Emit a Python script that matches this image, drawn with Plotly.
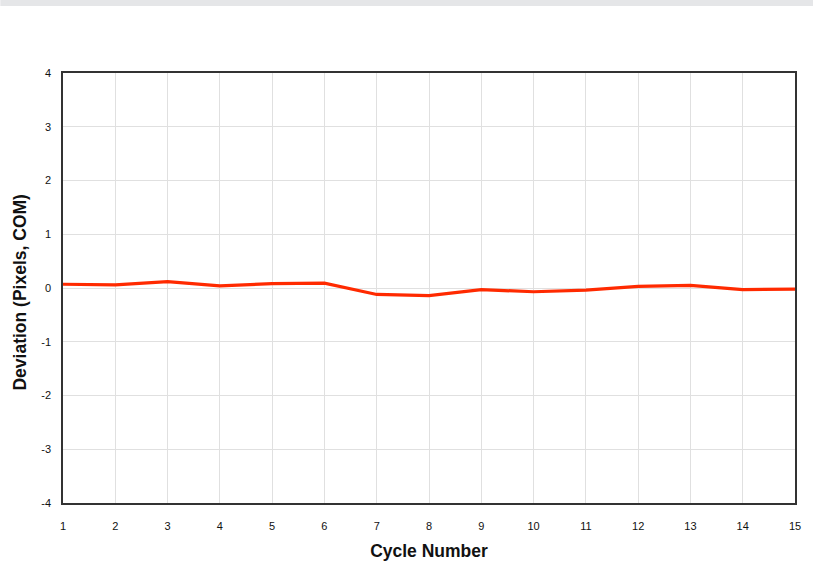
import plotly.graph_objects as go

# desviación del centro de masa por ciclo
ciclo = list(range(1, 16))
desviacion = [0.07, 0.06, 0.12, 0.04, 0.08, 0.09, -0.12, -0.14,
              -0.03, -0.07, -0.04, 0.03, 0.05, -0.03, -0.02]
y_ticks = [-4, -3, -2, -1, 0, 1, 2, 3, 4]
y_etiquetas = ["-4", "-3", "-2", "-1", "0", "1", "2", "3", "4"]

W, H = 813, 577
ML, MR, MT, MB = 63, 14, 73, 74
plot_w = W - ML - MR
plot_h = H - MT - MB

fig = go.Figure()
fig.add_trace(go.Scatter(
    x=ciclo, y=desviacion, mode="lines",
    line=dict(color="#ff2a00", width=3.2),
    showlegend=False, hoverinfo="skip",
))

# barra gris superior
fig.add_shape(type="rect", xref="paper", yref="paper",
              x0=-ML / plot_w, x1=1 + (MR + 5) / plot_w,
              y0=1 + (MT - 6) / plot_h, y1=1 + (MT + 2) / plot_h,
              fillcolor="#e5e6e8", line_width=0, layer="below")

fuente = "Liberation Sans, Arial, sans-serif"
fig.update_xaxes(
    range=[1, 15], tickvals=ciclo, showgrid=True, gridcolor="#e0e0e0",
    gridwidth=1, showline=True, linecolor="#333", linewidth=1.5,
    mirror=True, zeroline=False, ticks="outside", ticklen=12,
    tickcolor="rgba(0,0,0,0)",
    tickfont=dict(family=fuente, size=11, color="#111"),
    title=dict(text="<b>Cycle Number</b>", standoff=14,
               font=dict(family=fuente, size=17.5, color="#111")),
)
fig.update_yaxes(
    range=[-4, 4], tickvals=y_ticks, ticktext=y_etiquetas,
    showgrid=True, gridcolor="#e0e0e0",
    gridwidth=1, showline=True, linecolor="#333", linewidth=1.5,
    mirror=True, zeroline=False, ticks="outside", ticklen=8,
    tickcolor="rgba(0,0,0,0)",
    tickfont=dict(family=fuente, size=11, color="#111"),
)
# título del eje y como anotación para fijar su posición
fig.add_annotation(
    text="<b>Deviation (Pixels, COM)</b>", textangle=-90,
    xref="paper", yref="paper", x=(20 - ML) / plot_w, y=0.49,
    xanchor="center", yanchor="middle", showarrow=False,
    font=dict(family=fuente, size=17.5, color="#111"),
)
fig.update_layout(
    width=W, height=H,
    margin=dict(l=ML, r=MR, t=MT, b=MB),
    plot_bgcolor="white", paper_bgcolor="white",
)
fig.write_html("out.html", config={"displayModeBar": False},
               post_script="document.body.style.margin='0';")
